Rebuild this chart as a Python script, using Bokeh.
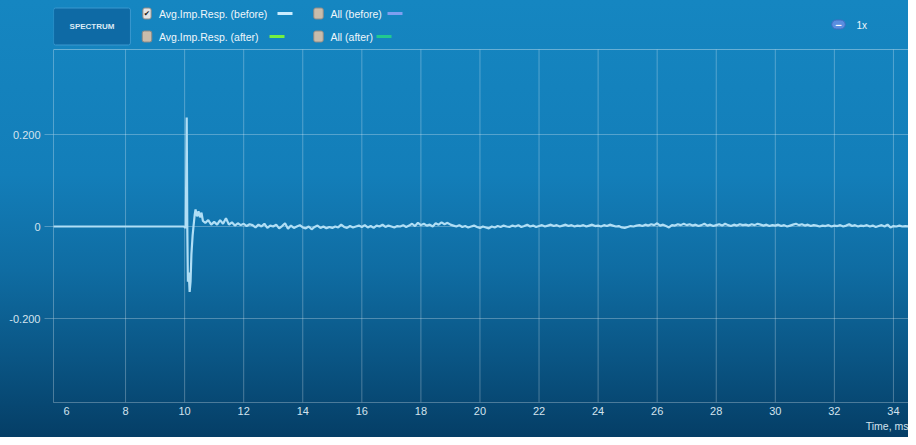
from bokeh.plotting import figure
from bokeh.models import Range1d, FixedTicker, Label, BoxAnnotation, Span, Title
from bokeh.embed import file_html
from bokeh.resources import INLINE

# ---------------- data ----------------
t_head = [5.56, 9.98, 10.02, 10.04, 10.07, 10.09, 10.11, 10.14, 10.17, 10.20, 10.23,
          10.27, 10.30, 10.34, 10.37, 10.42, 10.47, 10.52, 10.57, 10.62, 10.70, 10.80, 10.90]
v_head = [0.0, 0.0, -0.003, 0.0, 0.237, 0.0, -0.120, -0.100, -0.142, -0.120, -0.060,
          -0.020, 0.000, 0.025, 0.037, 0.022, 0.033, 0.020, 0.030, 0.012, 0.008, 0.014, 0.004]

tail_start = 11.0
tail_step = 0.1
v_tail = [
    0.010, 0.004, 0.014, 0.006, 0.018, 0.004, 0.009, 0.002, 0.007, 0.003,
    0.006, 0.001, 0.005, 0.003, -0.002, 0.004, 0.000, 0.006, -0.003, 0.002,
    0.000, 0.004, -0.004, 0.001, 0.007, -0.005, 0.002, -0.003, 0.000, 0.003,
    -0.002, -0.004, 0.000, -0.006, -0.001, 0.002, -0.003, 0.000, -0.004, -0.001,
    -0.003, 0.000, -0.002, 0.004, -0.001, -0.003, 0.001, -0.002, 0.000, 0.002,
    -0.001, 0.003, -0.002, 0.001, -0.003, 0.002, 0.000, 0.004, -0.001, 0.002,
    0.000, -0.002, 0.001, 0.000, 0.003, -0.001, 0.002, 0.006, 0.001, 0.008,
    0.003, 0.006, 0.002, 0.004, 0.000, 0.007, 0.004, 0.009, 0.005, 0.008,
    0.004, 0.002, 0.000, 0.003, -0.001, 0.001, -0.002, 0.000, 0.002, -0.001,
    -0.003, 0.000, -0.002, -0.004, 0.000, -0.002, 0.001, -0.001, 0.002, 0.000,
    -0.001, 0.002, 0.000, 0.003, -0.001, 0.001, 0.004, 0.000, 0.002, -0.001,
    0.001, 0.003, 0.000, 0.002, 0.004, 0.001, 0.003, 0.000, 0.002, 0.004,
    0.001, 0.003, 0.000, 0.002, 0.001, 0.003, 0.000, 0.002, 0.004, 0.001,
    0.002, 0.000, 0.003, 0.001, 0.004, 0.002, 0.000, 0.001, -0.002, -0.003,
    -0.001, 0.001, 0.000, 0.002, 0.003, 0.001, 0.004, 0.002, 0.005, 0.003,
    0.007, 0.002, 0.004, 0.001, -0.002, 0.003, 0.002, 0.005, 0.003, 0.006,
    0.003, 0.005, 0.002, 0.004, 0.001, 0.003, 0.006, 0.002, 0.004, 0.001,
    0.003, 0.005, 0.002, 0.006, 0.003, 0.001, 0.004, 0.002, 0.005, 0.003,
    0.004, 0.002, 0.005, 0.003, 0.006, 0.004, 0.002, 0.004, 0.001, 0.003,
    0.002, 0.004, 0.001, 0.003, 0.000, 0.002, 0.004, 0.006, 0.003, 0.005,
    0.002, 0.004, 0.001, 0.003, 0.002, 0.000, 0.002, 0.001, 0.003, 0.000,
    0.002, 0.001, 0.003, 0.000, 0.002, 0.005, 0.001, 0.003, 0.000, 0.002,
    0.001, 0.003, 0.000, 0.002, -0.001, 0.001, 0.003, 0.000, 0.004, -0.002,
    0.001, 0.000, 0.002, 0.000, 0.001, 0.000,
]
t_tail = [round(tail_start + i * tail_step, 2) for i in range(len(v_tail))]

time_ms = t_head + t_tail
amplitude = v_head + v_tail

x_ticks = [6, 8, 10, 12, 14, 16, 18, 20, 22, 24, 26, 28, 30, 32, 34]
y_ticks = [-0.2, 0.0, 0.2]
y_tick_labels = {-0.2: "-0.200", 0.0: "0", 0.2: "0.200"}
x_axis_title = "Time, ms"

legend_items = ["Avg.Imp.Resp. (before)", "All (before)", "Avg.Imp.Resp. (after)", "All (after)"]
legend_colors = ["#c9ecff", "#7f9ff0", "#74f040", "#22c98f"]
legend_checked = [True, False, False, False]

# ---------------- geometry ----------------
W, H = 908, 437
BL, BB = 53, 35          # left / bottom borders (px)
HEAD = 49                 # header band height inside the frame (px)
X0, X1 = 5.56, 34.51
Y0, Y_TOP = -0.3826, 0.3848
FW, FH = W - BL, H - BB
PLOT_H = FH - HEAD
Y_EXT = Y_TOP + HEAD * (Y_TOP - Y0) / PLOT_H

p = figure(width=W, height=H, output_backend="svg", toolbar_location=None,
           x_range=Range1d(X0, X1), y_range=Range1d(Y0, Y_EXT),
           min_border_left=BL, min_border_right=0, min_border_top=0, min_border_bottom=BB)
p.background_fill_color = None
p.border_fill_color = None
p.outline_line_color = None
p.styles = {"background": "linear-gradient(to bottom, #1586c1 0%, #137eb9 40%, #0f6ca2 62%, #0a5584 82%, #053e66 100%)"}

FONT = "Liberation Sans"
LBL = "#d3e3ee"
GRID = "rgba(255,255,255,0.28)"

p.xaxis.ticker = FixedTicker(ticks=x_ticks)
p.yaxis.ticker = FixedTicker(ticks=y_ticks)
p.yaxis.major_label_overrides = y_tick_labels
p.yaxis.bounds = (Y0, Y_TOP)
for ax in (p.xaxis, p.yaxis):
    ax.major_label_text_font = FONT
    ax.major_label_text_font_size = "11px"
    ax.major_label_text_color = LBL
    ax.minor_tick_line_color = None
    ax.axis_line_color = GRID
    ax.major_tick_line_color = GRID
p.xaxis.major_tick_out = 0
p.xaxis.major_tick_in = 0
p.xaxis.major_label_standoff = 4
p.yaxis.major_tick_out = 9
p.yaxis.major_tick_in = 0
p.yaxis.major_label_standoff = 4

p.xgrid.grid_line_color = None
p.ygrid.ticker = FixedTicker(ticks=y_ticks)
p.ygrid.grid_line_color = GRID

# vertical grid lines limited to the plotting band
grid_x = x_ticks[1:]
p.segment(x0=grid_x, y0=[Y0] * len(grid_x), x1=grid_x, y1=[Y_TOP] * len(grid_x),
          line_color=GRID, line_width=1)
p.add_layout(Span(location=Y_TOP, dimension="width", line_color="rgba(255,255,255,0.35)", line_width=1))

p.line(time_ms, amplitude, line_color="#b0def5", line_width=2.2)

p.add_layout(Title(text=x_axis_title, align="right", text_font=FONT, text_font_size="10.5px",
                   text_font_style="normal", text_color=LBL, standoff=0, offset=0), "below")

# ---------------- header decorations (canvas px -> data) ----------------
def dx(cx):
    return X0 + (cx - BL) * (X1 - X0) / FW
def dy(cy):
    return Y_EXT - cy * (Y_EXT - Y0) / FH

p.add_layout(Label(x=dx(91.5), y=dy(26), text="SPECTRUM",
                   text_font=FONT, text_font_size="8px", text_font_style="bold",
                   text_color="#dcebf5", text_align="center", text_baseline="middle",
                   background_fill_color="#0e6aa5", border_line_color="#3a98cf",
                   padding=(16, 14), border_radius=2))

box_x = [146.5, 318, 146.5, 318]
row_y = [13, 13, 36, 36]
sw_x = [277, 387, 269, 376]
for bx, cy, name, col, chk, sx in zip(box_x, row_y, legend_items, legend_colors, legend_checked, sw_x):
    p.add_layout(Label(x=dx(bx), y=dy(cy),
                       text="\u2714" if chk else "\u2003", text_font="DejaVu Sans",
                       text_font_size="7.5px", text_color="#1c1c1c",
                       text_align="center", text_baseline="middle",
                       background_fill_color="#c9bcab" if not chk else "#e4e4e4",
                       border_line_color="#8e8a86", padding=(1, 1), border_radius=2))
    p.add_layout(Label(x=dx(bx + 12), y=dy(cy), text=name,
                       text_font=FONT, text_font_size="10.5px", text_color="#eef6fb",
                       text_align="left", text_baseline="middle"))
    p.add_layout(BoxAnnotation(left=dx(sx), right=dx(sx + 15), top=dy(cy - 1.5), bottom=dy(cy + 1.5),
                               fill_color=col, fill_alpha=1, line_color=None))

p.add_layout(Label(x=dx(838), y=dy(24), text="\u2212",
                   text_font="DejaVu Sans", text_font_size="9px", text_font_style="bold",
                   text_color="#ffffff", text_align="center", text_baseline="middle",
                   background_fill_color="#5a8ee0", border_line_color="#3f6cc0",
                   padding=(3, 1), border_radius=7))
p.add_layout(Label(x=dx(856), y=dy(25), text="1x",
                   text_font=FONT, text_font_size="10px", text_color="#eef6fb",
                   text_align="left", text_baseline="middle"))

open("out.html", "w").write(file_html(p, INLINE))
